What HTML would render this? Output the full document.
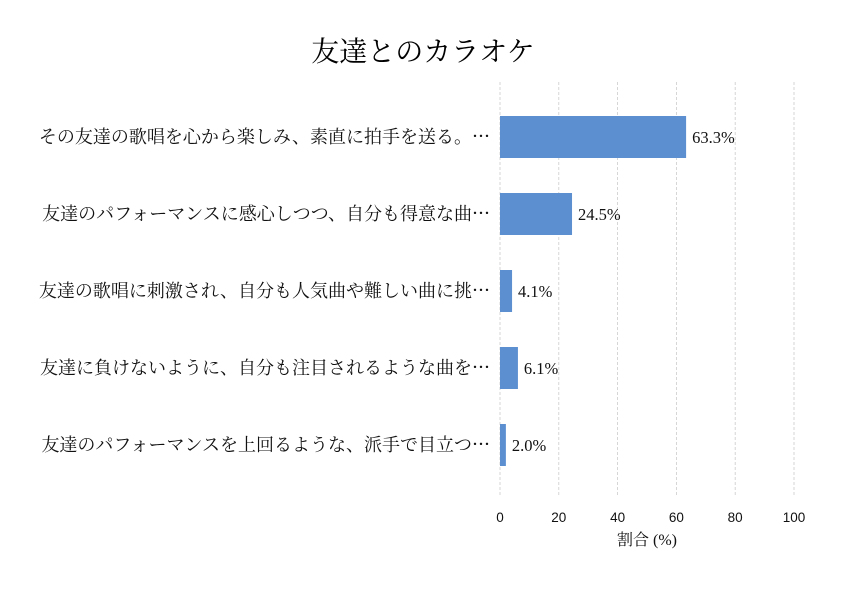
<!DOCTYPE html>
<html><head><meta charset="utf-8"><style>
body{margin:0;background:#fff;}
svg text{font-family:"Liberation Serif","Noto Serif CJK JP","Noto Serif CJK SC",serif;}
.tick{font-family:"Liberation Sans","DejaVu Sans",sans-serif;font-size:13.5px;fill:#111;}
</style></head><body>
<svg id="chart" width="846" height="588">
<text x="423" y="61" text-anchor="middle" font-size="28" fill="#000">友達とのカラオケ</text>
<g id="grid"></g>
<g id="bars"></g>
<g id="xticks"></g>
<text x="647" y="545" text-anchor="middle" font-size="16" fill="#111">割合 (%)</text>
</svg>
<script>
const categories=["その友達の歌唱を心から楽しみ、素直に拍手を送る。…","友達のパフォーマンスに感心しつつ、自分も得意な曲…","友達の歌唱に刺激され、自分も人気曲や難しい曲に挑…","友達に負けないように、自分も注目されるような曲を…","友達のパフォーマンスを上回るような、派手で目立つ…"];
const values=[63.3,24.5,4.1,6.1,2.0];
const ticks=[0,20,40,60,80,100];
const NS="http://www.w3.org/2000/svg";
const x0=500,x1=794,yTop=82,yBot=495;
const xs=v=>x0+(v/100)*(x1-x0);
const band=77,yc=i=>137+i*band,bh=42;
function mk(t,a,p){const e=document.createElementNS(NS,t);for(const k in a)e.setAttribute(k,a[k]);p.appendChild(e);return e;}
const grid=document.getElementById('grid'),bars=document.getElementById('bars'),xt=document.getElementById('xticks');
ticks.forEach(t=>{
 const l=mk('line',{x1:xs(t),x2:xs(t),y1:yTop,y2:yBot,stroke:'#ccc','stroke-width':0.8,'stroke-dasharray':'3,2'},grid);
 
 
 const tx=mk('text',{x:xs(t),y:522,'text-anchor':'middle',class:'tick'},xt);
 tx.textContent=t;
 
 
});
categories.forEach((c,i)=>{
 const r=mk('rect',{x:x0,y:yc(i)-bh/2,width:xs(values[i])-x0,height:bh,fill:'#5b8fd0'},bars);
 
 
 const v=mk('text',{x:xs(values[i])+6,y:yc(i)+6,'font-size':16.5,fill:'#111'},bars);
 v.textContent=values[i].toFixed(1)+'%';
 
 
 const lb=mk('text',{x:490,y:yc(i)+6,'text-anchor':'end','font-size':18,fill:'#111'},bars);
 lb.textContent=c.replace('…','');
 
 
 const el=mk('tspan',{'font-family':'"Noto Sans CJK JP",sans-serif'},lb);
 el.textContent='…';
 
 
});
</script>
</body></html>
